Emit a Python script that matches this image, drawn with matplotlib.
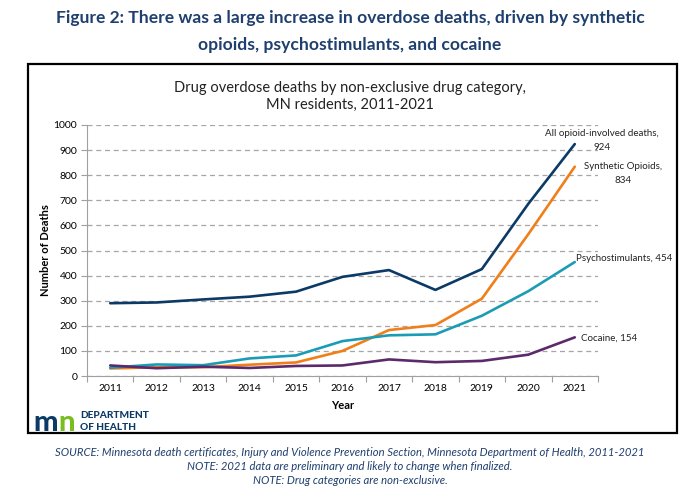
import matplotlib
matplotlib.use("Agg")
import matplotlib.pyplot as plt
from matplotlib.patches import Rectangle

plt.rcParams['font.family'] = ['Lato', 'DejaVu Sans']

# data
years = [2011, 2012, 2013, 2014, 2015, 2016, 2017, 2018, 2019, 2020, 2021]
all_opioid = [290, 293, 305, 316, 336, 395, 422, 343, 426, 686, 924]
synthetic = [30, 35, 35, 45, 54, 100, 183, 203, 308, 565, 834]
psychostim = [33, 46, 43, 70, 82, 139, 162, 166, 240, 338, 454]
cocaine = [42, 31, 37, 32, 40, 42, 66, 55, 60, 85, 154]

colors = ["#0b3a66", "#f07f1a", "#1b9cb6", "#5c2a6b"]
navy = "#1f3f6e"

fig = plt.figure(figsize=(7, 4.99), dpi=100)

# frame around the chart
fig.patches.append(Rectangle((28/700, 1-433/499), 649/700, 369/499,
                             transform=fig.transFigure, fill=False,
                             edgecolor="black", linewidth=1.6))

fig.text(0.5, 1-18/499, "Figure 2: There was a large increase in overdose deaths, driven by synthetic",
         ha="center", va="center", fontsize=12.6, fontweight="bold", color=navy)
fig.text(0.5, 1-45/499, "opioids, psychostimulants, and cocaine",
         ha="center", va="center", fontsize=12.6, fontweight="bold", color=navy)

fig.text(0.5, 1-88/499, "Drug overdose deaths by non-exclusive drug category,",
         ha="center", va="center", fontsize=10.5, color="#222222")
fig.text(0.5, 1-105/499, "MN residents, 2011-2021",
         ha="center", va="center", fontsize=10.5, color="#222222")

ax = fig.add_axes([87/700, 1-376/499, 511/700, 251/499])
for vals, c in zip([all_opioid, synthetic, psychostim, cocaine], colors):
    ax.plot(years, vals, color=c, linewidth=1.9, solid_capstyle="round", zorder=3)

ax.set_xlim(2010.5, 2021.5)
ax.set_ylim(0, 1000)
ax.set_yticks(range(0, 1001, 100))
ax.yaxis.grid(True, color="#a6a6a6", linestyle=(0, (4, 3)), linewidth=0.9)
ax.set_axisbelow(True)

ax.set_xticks([y + 0.5 for y in [2010] + years])
ax.set_xticklabels([])
ax.set_xticks(years, minor=True)
ax.set_xticklabels([str(y) for y in years], minor=True)
ax.tick_params(axis="x", which="major", direction="out", length=4, color="#a0a0a0")
ax.tick_params(axis="x", which="minor", length=0, pad=6, labelsize=7.5)
ax.tick_params(axis="y", direction="out", length=4, color="#a0a0a0", labelsize=7.5, pad=3)

for s in ["top", "right"]:
    ax.spines[s].set_visible(False)
for s in ["left", "bottom"]:
    ax.spines[s].set_color("#a0a0a0")

ax.set_xlabel("Year", fontsize=8, fontweight="bold", labelpad=5)
ax.set_ylabel("Number of Deaths", fontsize=8, fontweight="bold", labelpad=2)

# end-of-line labels
lab = dict(fontsize=7, va="center", clip_on=False, color="#222222")
ax.text(2021.58, 965, "All opioid-involved deaths,", ha="center", **lab)
ax.text(2021.58, 912, str(all_opioid[-1]), ha="center", **lab)
ax.text(2022.05, 833, "Synthetic Opioids,", ha="center", **lab)
ax.text(2022.05, 780, str(synthetic[-1]), ha="center", **lab)
ax.text(2021.03, 470, "Psychostimulants, " + str(psychostim[-1]), ha="left", **lab)
ax.text(2021.13, 150, "Cocaine, " + str(cocaine[-1]), ha="left", **lab)

# MDH logo (approximation)
m_txt = fig.text(33/700, 1-423/499, "m", fontsize=21, fontweight="black", color="#0b3a66",
                 ha="left", va="center")
fig.canvas.draw()
m_box = m_txt.get_window_extent()
fig.text((m_box.x1 + 0.5)/700, 1-423/499, "n", fontsize=21, fontweight="black",
         color="#78be20", ha="left", va="center")
fig.text(80/700, 1-416/499, "DEPARTMENT", fontsize=7.3, fontweight="black",
         color="#0b3a66", ha="left", va="center")
fig.text(80/700, 1-428/499, "OF HEALTH", fontsize=7.3, fontweight="black",
         color="#0b3a66", ha="left", va="center")

foot = ["SOURCE: Minnesota death certificates, Injury and Violence Prevention Section, Minnesota Department of Health, 2011-2021",
        "NOTE: 2021 data are preliminary and likely to change when finalized.",
        "NOTE: Drug categories are non-exclusive."]
for i, line in enumerate(foot):
    fig.text(0.5, 1-(452+14*i)/499, line, ha="center", va="center",
             fontsize=8.1, style="italic", color=navy)

fig.savefig("out.png", dpi=100)
